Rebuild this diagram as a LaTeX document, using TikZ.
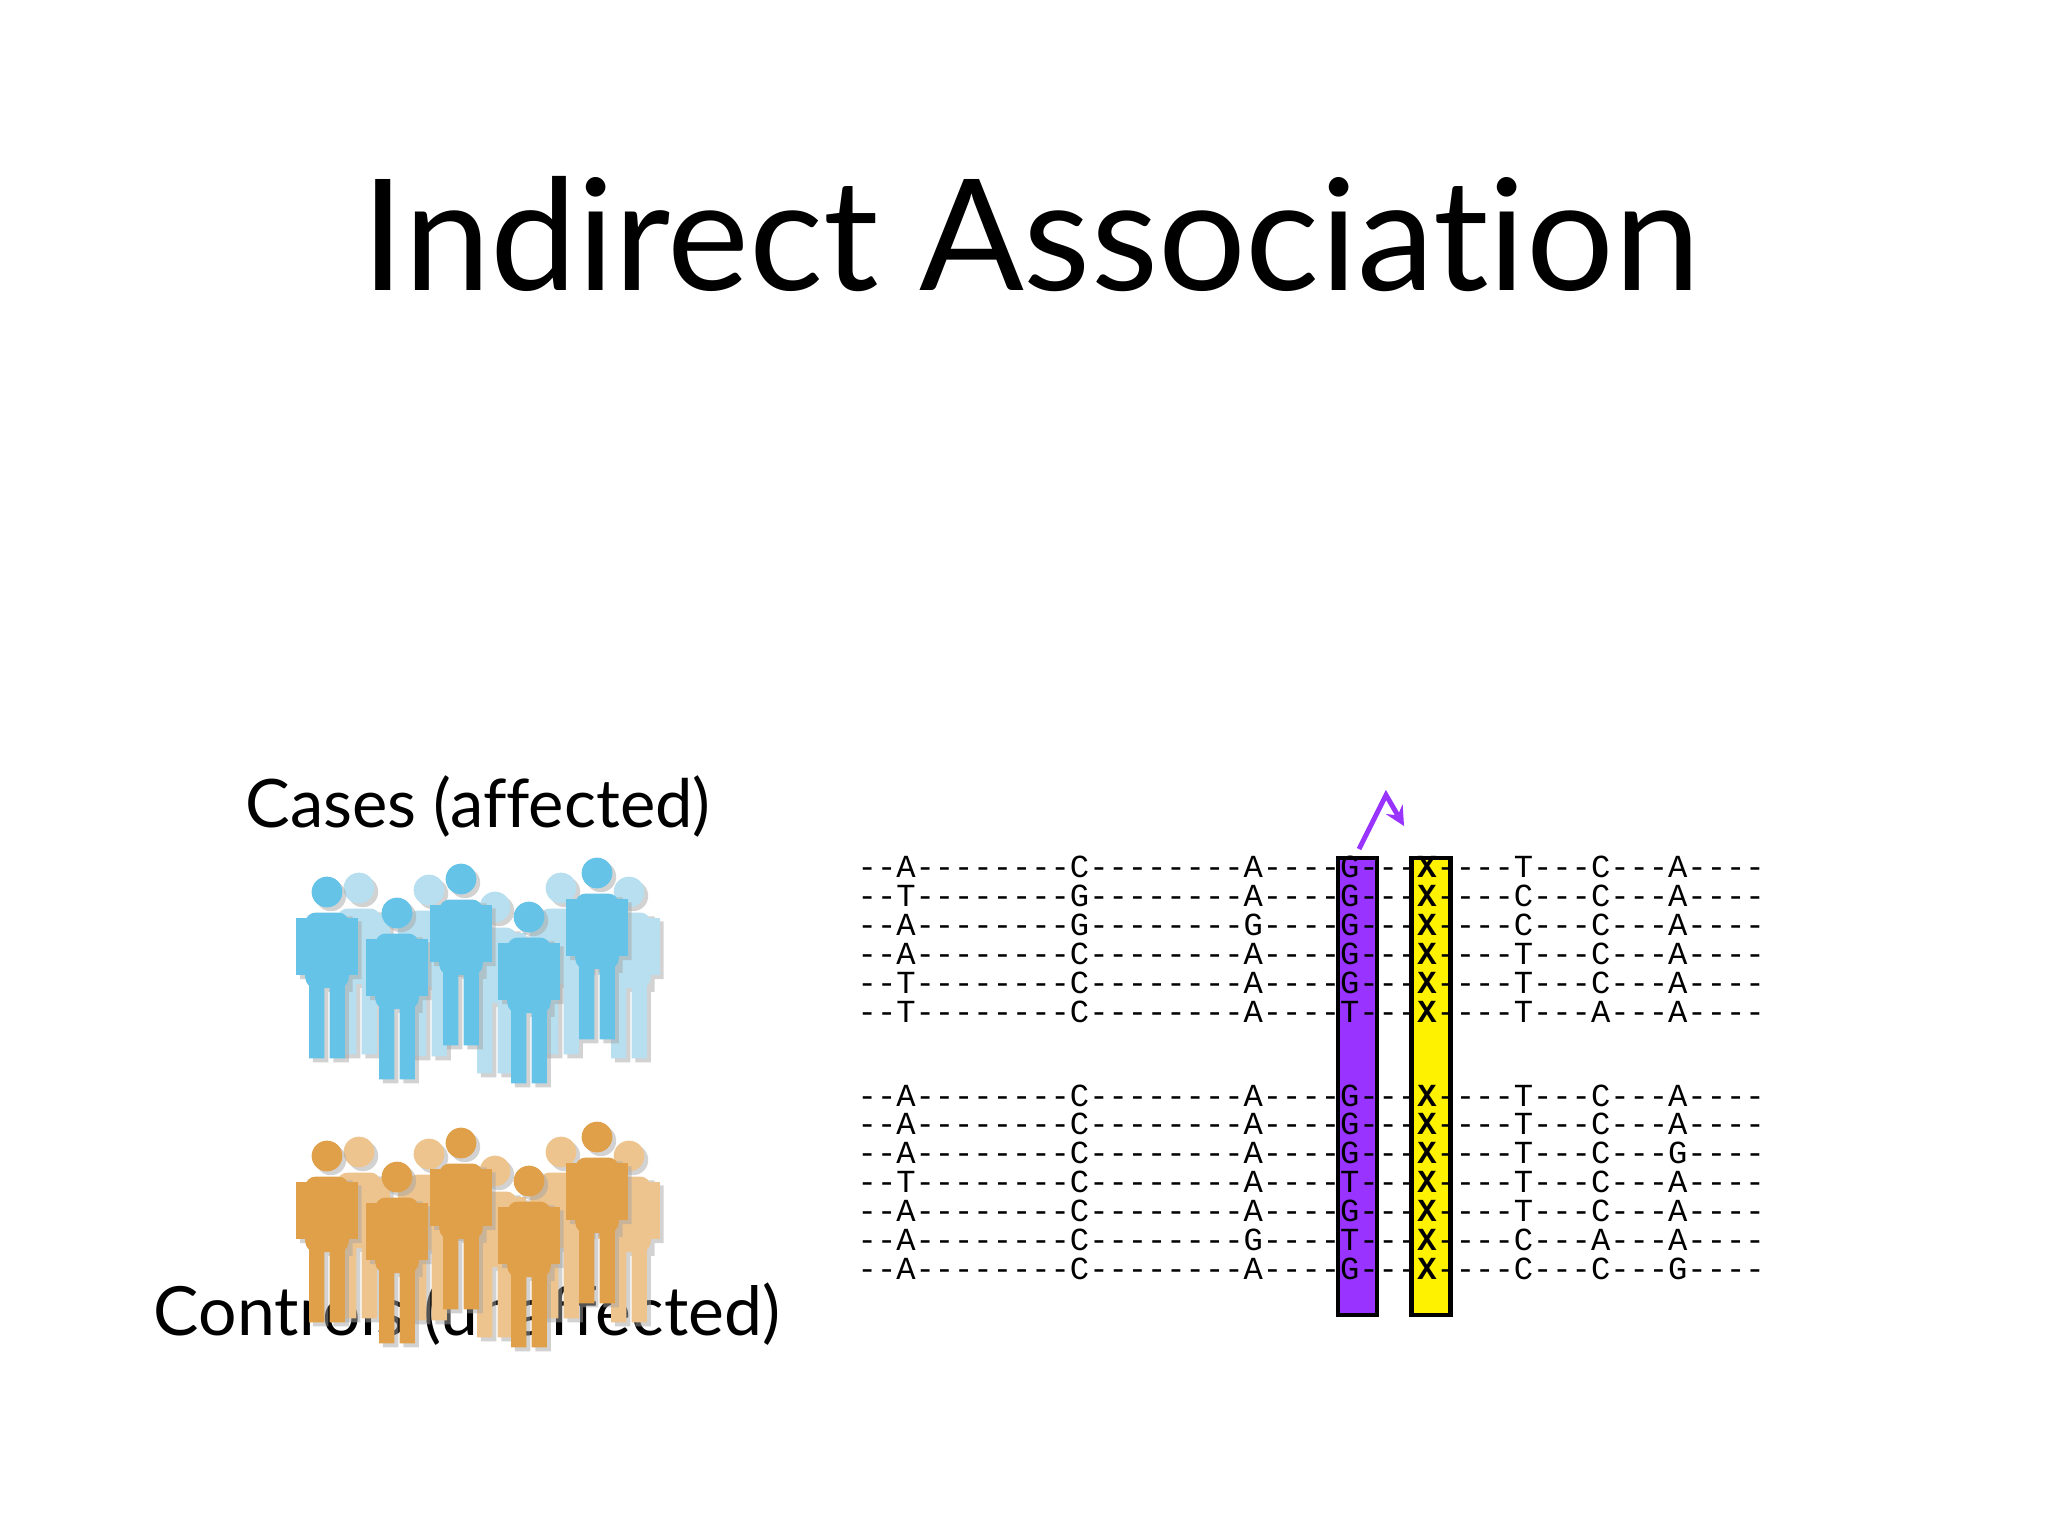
\documentclass[tikz,border=0pt]{standalone}
\usepackage{fontspec}
\setmainfont{Lato}[Ligatures=NoCommon]
\setmonofont{Liberation Mono}
\usepackage{graphicx}
\definecolor{dblue}{HTML}{66C3E8}
\definecolor{lblue}{HTML}{B7DFF0}
\definecolor{dorange}{HTML}{E0A04A}
\definecolor{lorange}{HTML}{EEC48E}
\definecolor{snpviolet}{HTML}{9933FF}
\newcommand\seqrow[7]{\ttfamily\fontsize{9.15pt}{10pt}\selectfont -{}-#1-{}-{}-{}-{}-{}-{}-{}-#2-{}-{}-{}-{}-{}-{}-{}-#3-{}-{}-{}-#4-{}-{}-\textbf{X}-{}-{}-{}-#5-{}-{}-#6-{}-{}-#7-{}-{}-{}-}
\newcommand\person[3]{%
 \begin{scope}[shift={(#1,#2)},scale=1.28]
  \fill[black!35,opacity=0.5] (3,3) circle (12);
  \fill[black!35,opacity=0.5] (-14,19) rectangle (20,78) (-21,23) rectangle (27,68) (-11,76) rectangle (1,133) (5,76) rectangle (17,133);
  \fill[#3] (0,0) circle (12);
  \fill[#3, rounded corners=3] (-17,16) rectangle (17,75);
  \fill[#3] (-24,20) rectangle (24,65);
  \fill[#3] (-14,70) rectangle (-2,130) (2,70) rectangle (14,130);
 \end{scope}}
\tikzset{
 lbl/.style={inner sep=0pt},
 seq/.style={anchor=base west,inner sep=0pt},
 bar/.style={draw=black,line width=1.3pt,inner sep=0pt,minimum width=39*0.1mm,minimum height=457*0.1mm},
}
\begin{document}
\begin{tikzpicture}[x=0.1mm,y=-0.1mm]
\useasboundingbox (0,0) rectangle (2048,1536);
\fill[white] (0,0) rectangle (2048,1536);
\node[lbl] (title) at (1031,234) {\resizebox{133.8mm}{!}{Indirect Association}};
\node[lbl] (cases) at (478,806) {\resizebox{46.5mm}{!}{Cases (affected)}};
\node[lbl] (controls) at (467,1314) {\resizebox{62.6mm}{!}{Controls (unaffected)}};
% people
\foreach \dy/\dc/\lc in {0/dblue/lblue, 264/dorange/lorange}{
 \person{629}{892+\dy}{\lc}
 \person{561}{888+\dy}{\lc}
 \person{495}{907+\dy}{\lc}
 \person{429}{890+\dy}{\lc}
 \person{359}{888+\dy}{\lc}
 \person{327}{892+\dy}{\dc}
 \person{397}{913+\dy}{\dc}
 \person{461}{879+\dy}{\dc}
 \person{529}{917+\dy}{\dc}
 \person{597}{873+\dy}{\dc}
}
% bars
\node[bar,fill=snpviolet] (pbar) at (1357.5,1086.5) {};
\node[bar,fill=yellow] (ybar) at (1431,1086.5) {};
% sequences
\foreach \i/\a/\b/\c/\d/\e/\f/\g in {0/A/C/A/G/T/C/A,1/T/G/A/G/C/C/A,2/A/G/G/G/C/C/A,3/A/C/A/G/T/C/A,4/T/C/A/G/T/C/A,5/T/C/A/T/T/A/A}{
 \node[seq] (c\i) at (857,{877+29*\i}) {\seqrow{\a}{\b}{\c}{\d}{\e}{\f}{\g}};
}
\foreach \i/\a/\b/\c/\d/\e/\f/\g in {0/A/C/A/G/T/C/A,1/A/C/A/G/T/C/A,2/A/C/A/G/T/C/G,3/T/C/A/T/T/C/A,4/A/C/A/G/T/C/A,5/A/C/G/T/C/A/A,6/A/C/A/G/C/C/G}{
 \node[seq] (k\i) at (857,{1106+28.9*\i}) {\seqrow{\a}{\b}{\c}{\d}{\e}{\f}{\g}};
}
\coordinate (a0) at (1359,849);
\coordinate (a1) at (1386,795);
\coordinate (a2) at (1404,826);
\draw[snpviolet,line width=1.4pt,-stealth] (a0) -- (a1) -- (a2);
\end{tikzpicture}
\end{document}
